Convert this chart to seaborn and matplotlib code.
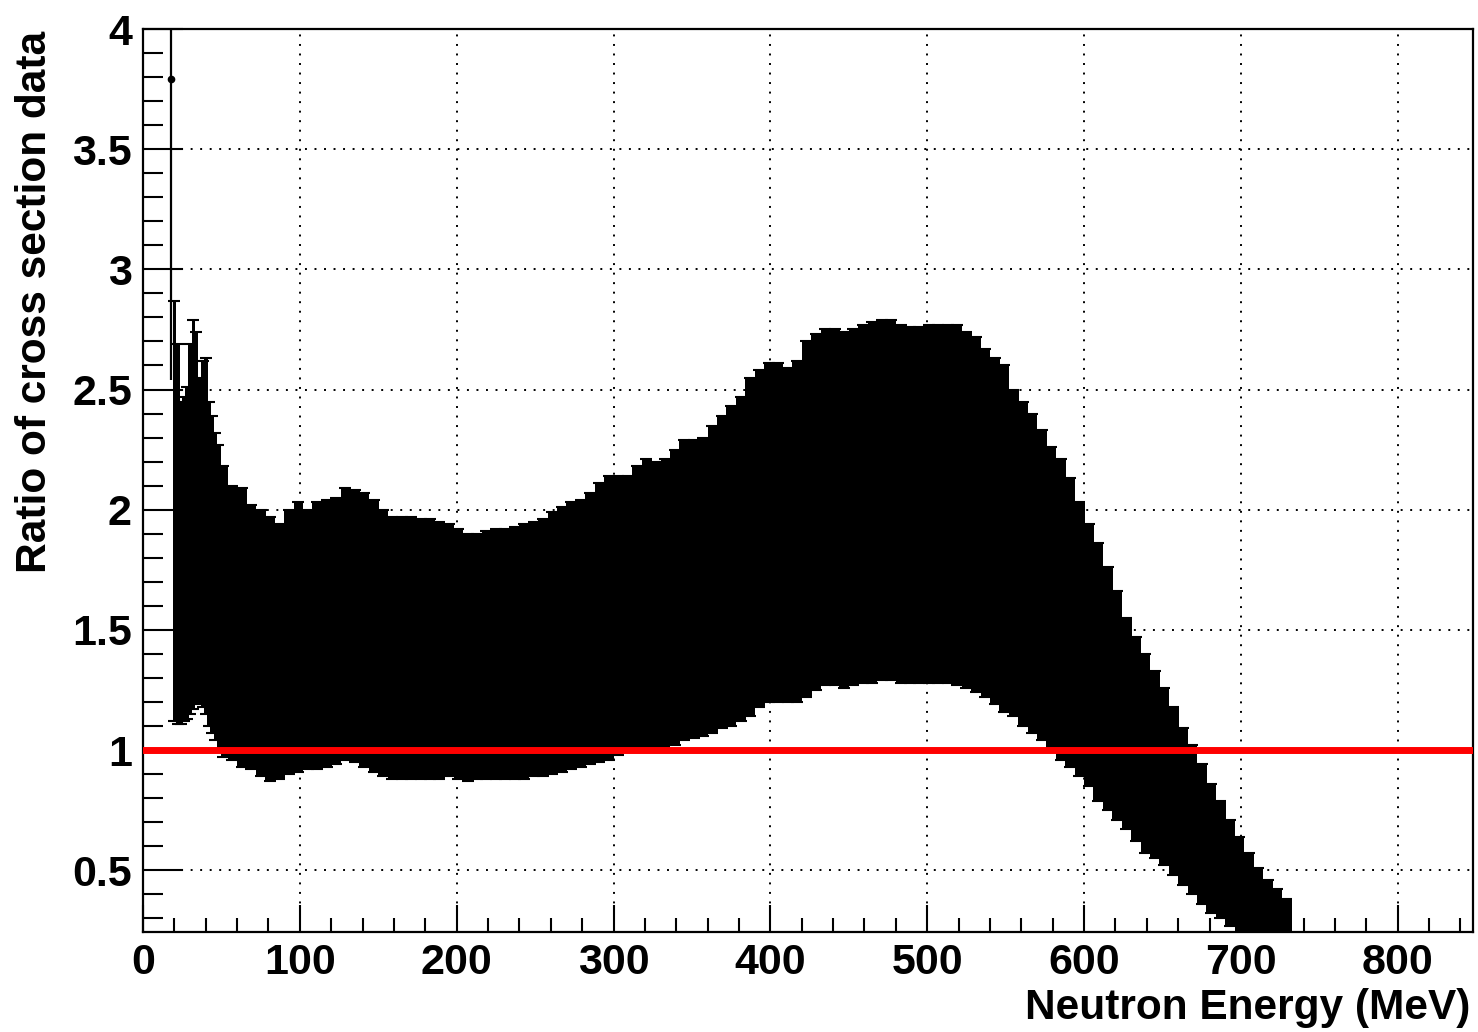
import numpy as np
import matplotlib
matplotlib.use("Agg")
import matplotlib.pyplot as plt
import seaborn as sns
from matplotlib.ticker import MultipleLocator, FuncFormatter

# ---------------- data ----------------
# isolated first point
spike_energy = [18.0]
spike_ratio = [3.79]
spike_error = [1.25]

# band of error bars: bin centre energies (MeV), upper and lower edges (ratio +/- error)
energy = [20, 22, 24, 26, 28, 30, 32, 34, 36, 38, 40, 42, 44, 46, 48,
          51, 57, 63, 69, 75, 81, 87, 93, 99, 105, 111, 117, 123, 129, 135,
          141, 147, 153, 159, 165, 171, 177, 183, 189, 195, 201, 207, 213, 219, 225,
          231, 237, 243, 249, 255, 261, 267, 273, 279, 285, 291, 297, 303, 309, 315,
          321, 327, 333, 339, 345, 351, 357, 363, 369, 375, 381, 387, 393, 399, 405,
          411, 417, 423, 429, 435, 441, 447, 453, 459, 465, 471, 477, 483, 489, 495,
          501, 507, 513, 519, 525, 531, 537, 543, 549, 555, 561, 567, 573, 579, 585,
          591, 597, 603, 609, 615, 621, 627, 633, 639, 645, 651, 657, 663, 669, 675,
          681, 687, 693, 699, 705, 711, 717, 723, 729]
upper = [2.87, 2.69, 2.45, 2.47, 2.51, 2.69, 2.79, 2.74, 2.55, 2.62, 2.63, 2.45, 2.39, 2.32, 2.27,
         2.18, 2.10, 2.09, 2.02, 2.00, 1.97, 1.94, 2.00, 2.03, 2.00, 2.03, 2.04, 2.05, 2.09, 2.08,
         2.07, 2.04, 2.00, 1.97, 1.97, 1.97, 1.96, 1.96, 1.95, 1.94, 1.92, 1.90, 1.90, 1.91, 1.92,
         1.92, 1.93, 1.94, 1.95, 1.96, 1.99, 2.01, 2.03, 2.04, 2.07, 2.11, 2.14, 2.14, 2.14, 2.18,
         2.21, 2.20, 2.21, 2.25, 2.29, 2.29, 2.30, 2.35, 2.39, 2.43, 2.47, 2.55, 2.58, 2.61, 2.61,
         2.59, 2.62, 2.70, 2.73, 2.75, 2.75, 2.74, 2.75, 2.77, 2.78, 2.79, 2.79, 2.77, 2.76, 2.76,
         2.77, 2.77, 2.77, 2.77, 2.74, 2.72, 2.67, 2.63, 2.60, 2.50, 2.45, 2.40, 2.33, 2.26, 2.21,
         2.13, 2.03, 1.94, 1.86, 1.76, 1.66, 1.55, 1.47, 1.40, 1.33, 1.26, 1.18, 1.09, 1.02, 0.94,
         0.86, 0.79, 0.71, 0.64, 0.57, 0.51, 0.46, 0.42, 0.38]
lower = [1.12, 1.11, 1.11, 1.12, 1.13, 1.15, 1.17, 1.19, 1.20, 1.18, 1.15, 1.10, 1.07, 1.04, 1.00,
         0.97, 0.96, 0.93, 0.92, 0.89, 0.87, 0.88, 0.90, 0.91, 0.92, 0.92, 0.93, 0.94, 0.96, 0.95,
         0.93, 0.91, 0.89, 0.88, 0.88, 0.88, 0.88, 0.88, 0.88, 0.89, 0.88, 0.87, 0.88, 0.88, 0.88,
         0.88, 0.88, 0.88, 0.89, 0.89, 0.90, 0.91, 0.92, 0.93, 0.94, 0.95, 0.96, 0.98, 0.99, 0.99,
         1.00, 1.00, 1.00, 1.02, 1.04, 1.05, 1.06, 1.07, 1.09, 1.10, 1.12, 1.14, 1.18, 1.20, 1.20,
         1.20, 1.20, 1.22, 1.25, 1.27, 1.27, 1.26, 1.27, 1.28, 1.28, 1.29, 1.29, 1.28, 1.28, 1.28,
         1.28, 1.28, 1.28, 1.27, 1.26, 1.24, 1.22, 1.19, 1.16, 1.14, 1.10, 1.07, 1.04, 1.00, 0.96,
         0.93, 0.89, 0.85, 0.79, 0.75, 0.71, 0.67, 0.62, 0.57, 0.55, 0.52, 0.48, 0.44, 0.40, 0.36,
         0.32, 0.30, 0.27, 0.24, 0.21, 0.18, 0.15, 0.12, 0.10]

# reference line
ref_x = [0, 848]
ref_y = [1.0, 1.0]

x_ticks = [0, 100, 200, 300, 400, 500, 600, 700, 800]
y_ticks = [0.5, 1.0, 1.5, 2.0, 2.5, 3.0, 3.5, 4.0]

# ---------------- styling ----------------
sns.set_style("white")
plt.rcParams['font.family'] = ['Liberation Sans', 'DejaVu Sans']
plt.rcParams['font.weight'] = 'bold'
plt.rcParams['text.color'] = 'black'
plt.rcParams['axes.labelcolor'] = 'black'
plt.rcParams['xtick.color'] = 'black'
plt.rcParams['ytick.color'] = 'black'

W, H = 1478, 1032
fig = plt.figure(figsize=(W / 100, H / 100), dpi=100)
ax = fig.add_axes([143 / W, 1 - 932 / H, (1473 - 143) / W, (932 - 29) / H])

e = np.array(energy, dtype=float)
up = np.array(upper)
lo = np.array(lower)
ratio = (up + lo) / 2
err = (up - lo) / 2

# bin edges halfway between neighbouring centres
mids = (e[1:] + e[:-1]) / 2
edges = np.concatenate([[e[0] - (mids[0] - e[0])], mids, [e[-1] + (e[-1] - mids[-1])]])
left_edges = edges[:-1]
bin_w = np.diff(edges)

# solid band of error bars
ax.bar(left_edges, up - lo, bottom=lo, width=bin_w + 0.3, align='edge',
       color='black', linewidth=0, zorder=2)
ax.errorbar(e, ratio, yerr=err, fmt='none', ecolor='black', elinewidth=1.4,
            capsize=4.5, capthick=1.5, zorder=2)

# isolated first point
ax.errorbar(spike_energy, spike_ratio, yerr=spike_error, fmt='o', color='black',
            markersize=4.5, elinewidth=1.6, capsize=0, zorder=3)

# reference line at 1
sns.lineplot(x=ref_x, y=ref_y, color='#ff0000', linewidth=5.0, ax=ax, zorder=4)

ax.set_xlim(0, 848)
ax.set_ylim(0.243, 4.0)

ax.xaxis.set_major_locator(MultipleLocator(100))
ax.xaxis.set_minor_locator(MultipleLocator(20))
ax.yaxis.set_major_locator(MultipleLocator(0.5))
ax.yaxis.set_minor_locator(MultipleLocator(0.1))
ax.set_xticks(x_ticks)
ax.set_yticks(y_ticks)
ax.yaxis.set_major_formatter(FuncFormatter(lambda v, p: f"{v:g}"))

ax.grid(True, which='major', color='black', linestyle=(0, (1, 3.9)), linewidth=1.4, zorder=1)
ax.set_axisbelow(True)

ax.tick_params(axis='both', which='both', direction='in', width=1.5, color='black',
               labelcolor='black', labelsize=31, pad=8, top=False, right=False,
               bottom=True, left=True)
ax.tick_params(axis='x', which='major', length=19.5)
ax.tick_params(axis='x', which='minor', length=9.8)
ax.tick_params(axis='y', which='major', length=28.8)
ax.tick_params(axis='y', which='minor', length=14.4)
for lab in ax.get_xticklabels() + ax.get_yticklabels():
    lab.set_fontweight('bold')

for s in ax.spines.values():
    s.set_color('black')
    s.set_linewidth(1.6)
    s.set_visible(True)

ax.set_xlabel('Neutron Energy (MeV)', fontsize=30.5, fontweight='bold', color='black')
ax.set_ylabel('Ratio of cross section data', fontsize=30.5, fontweight='bold', color='black')
ax.xaxis.set_label_coords((1470 - 143) / 1330, -(1008 - 932) / 903)
ax.xaxis.label.set_ha('right')
ax.xaxis.label.set_va('center')
ax.yaxis.set_label_coords((35 - 143) / 1330, 1 - (31 - 29) / 903)
ax.yaxis.label.set_ha('right')
ax.yaxis.label.set_va('center')

fig.savefig('out.png', dpi=100)
